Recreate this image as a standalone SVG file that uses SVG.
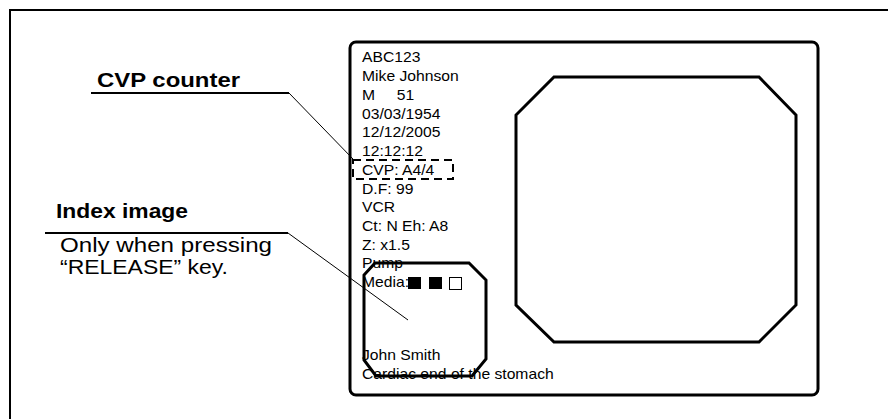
<svg xmlns="http://www.w3.org/2000/svg" width="888" height="419" viewBox="0 0 888 419">
<style>
.ln{fill:none;stroke:#000}
.t{font-family:"Liberation Sans",Arial,sans-serif;fill:#000}
.d{font-size:14px}
.b{font-weight:bold;font-size:20px}
.r{font-size:20px}
</style>
<rect width="888" height="419" fill="#fff"/>
<g id="frame"><rect class="ln" x="10" y="10" width="900" height="430" stroke-width="2"/></g>
<g id="monitor">
<rect class="ln" x="350" y="42" width="468" height="353" rx="6" stroke-width="3"/>
<polygon class="ln" stroke-width="3" points="554,77 759,77 796,115 796,305 759,342 554,342 516,305 516,115"/>
</g>
<g id="index-image">
<polygon class="ln" stroke-width="3" points="375,263 469,263 486,280 486,359 472,376 376,376 364,360 364,275"/>
</g>
<g id="info" class="t d" transform="translate(362,0) scale(1.12,1)">
<text x="0" y="62">ABC123</text>
<text x="0" y="81">Mike Johnson</text>
<text x="0" y="100">M<tspan x="31">51</tspan></text>
<text x="0" y="119">03/03/1954</text>
<text x="0" y="137">12/12/2005</text>
<text x="0" y="156">12:12:12</text>
<text x="0" y="175">CVP: A4/4</text>
<text x="0" y="194">D.F: 99</text>
<text x="0" y="212">VCR</text>
<text x="0" y="231">Ct: N Eh: A8</text>
<text x="0" y="250">Z: x1.5</text>
<text x="0" y="268">Pump</text>
<text x="0" y="287">Media:</text>
<text x="0" y="360">John Smith</text>
<text x="0" y="379">Cardiac end of the stomach</text>
</g>
<g id="media-icons">
<rect x="408" y="277" width="13" height="12" fill="#000"/>
<rect x="429" y="277" width="13" height="12" fill="#000"/>
<rect x="449.5" y="277.5" width="12" height="12" fill="#fff" stroke="#000" stroke-width="1"/>
</g>
<g id="cvp-box"><rect class="ln" x="353" y="160" width="100" height="19" stroke-width="2" stroke-dasharray="8,5"/></g>
<g id="label-cvp">
<text class="t b" x="97" y="87" textLength="143" lengthAdjust="spacingAndGlyphs">CVP counter</text>
</g>
<g id="label-index">
<text class="t b" x="56" y="218" textLength="132" lengthAdjust="spacingAndGlyphs">Index image</text>
<text class="t r" x="60" y="252" textLength="212" lengthAdjust="spacingAndGlyphs">Only when pressing</text>
<text class="t r" x="60" y="274" textLength="168" lengthAdjust="spacingAndGlyphs">“RELEASE” key.</text>
</g>
<g id="connectors">
<polyline class="ln" stroke-width="2" points="91,93 289,93"/>
<line class="ln" stroke-width="1" x1="289" y1="93" x2="353" y2="159"/>
<polyline class="ln" stroke-width="2" points="45,233 288,233"/>
<line class="ln" stroke-width="1" x1="288" y1="233" x2="408" y2="320"/>
</g>
</svg>
